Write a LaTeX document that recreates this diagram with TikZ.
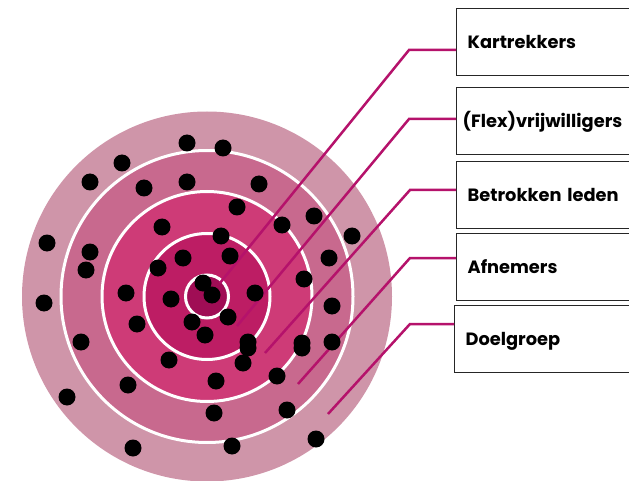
\documentclass[tikz,border=0pt]{standalone}
\usepackage{fontspec}
\newfontfamily\lblfont{Poppins}
\definecolor{ringA}{HTML}{CF95A9}
\definecolor{ringB}{HTML}{C8698E}
\definecolor{ringC}{HTML}{CE3B77}
\definecolor{ringD}{HTML}{BD1D64}
\definecolor{ringE}{HTML}{A00D55}
\definecolor{linkc}{HTML}{B5126B}
\tikzset{
  ring/.style={draw=white, line width=3pt},
  dot/.style={fill=black},
  lbox/.style={draw=black!85, line width=1.3pt, fill=white, anchor=north west,
    minimum height=67pt, text width=210pt, align=left, inner ysep=0pt,
    text height=12.5pt, text depth=0pt,
    font=\lblfont\bfseries\fontsize{17.8}{19}\selectfont},
  link/.style={draw=linkc, line width=2.5pt, line cap=butt, line join=miter}
}
\begin{document}
\begin{tikzpicture}[x=1pt, y=-1pt]
\useasboundingbox (0,0) rectangle (629,481);
\clip (0,0) rectangle (629,481);

% target rings
\coordinate (c) at (207,296.5);
\fill[ringA] (c) circle[radius=185];
\filldraw[ring, fill=ringB] (c) circle[radius=146];
\filldraw[ring, fill=ringC] (c) circle[radius=105];
\filldraw[ring, fill=ringD] (c) circle[radius=63];
\filldraw[ring, fill=ringE] (c) circle[radius=21.5];

% label boxes
\node[lbox, inner xsep=11pt] (kar) at (456,8)   {Kartrekkers};
\node[lbox, inner xsep=6pt]  (flx) at (456,87)  {(Flex)vrijwilligers};
\node[lbox, inner xsep=11pt] (bet) at (456,161) {Betrokken leden};
\node[lbox, inner xsep=11pt] (afn) at (456,233) {Afnemers};
\node[lbox, inner xsep=11pt] (doe) at (454,305) {Doelgroep};

% elbows and ends of the connectors
\coordinate (k1) at (409,50);  \coordinate (k2) at (220,283);
\coordinate (f1) at (409,119); \coordinate (f2) at (237,326);
\coordinate (b1) at (410,190); \coordinate (b2) at (265,353);
\coordinate (a1) at (410,258); \coordinate (a2) at (298,384);
\coordinate (d1) at (410,324); \coordinate (d2) at (328,414);

\draw[link] (kar.west |- k1) -- (k1) -- (k2);
\draw[link] (flx.west |- f1) -- (f1) -- (f2);
\draw[link] (bet.west |- b1) -- (b1) -- (b2);
\draw[link] (afn.west |- a1) -- (a1) -- (a2);
\draw[link] (doe.west |- d1) -- (d1) -- (d2);

% people in the rings
\foreach \p in {
  (187,143),(223,148),(122,163),(90,182),(144,188),(187,182),(259,184),
  (237,207),(314,216),(282,225),(352,236),(162,227),(221,236),(47,243),
  (90,252),(86,270),(329,258),(183,258),(230,256),(158,268),(304,279),
  (203,283),(212,295),(126,293),(171,299),(255,293),(332,306),(44,303),
  (137,324),(192,322),(228,317),(205,335),(248,342),(248,348),(302,343),
  (302,348),(332,342),(81,342),(169,360),(243,363),(216,381),(277,376),
  (128,385),(67,397),(214,413),(287,410),(133,448),(232,446),(316,439)}
  \fill[dot] \p circle[radius=8.5];
\end{tikzpicture}
\end{document}
